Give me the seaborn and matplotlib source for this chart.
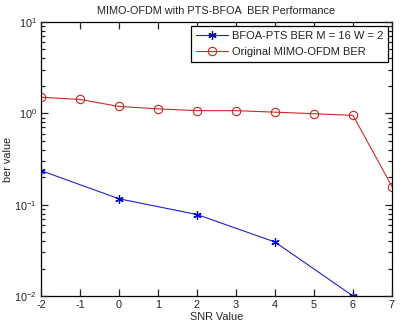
import matplotlib
matplotlib.use("Agg")
import matplotlib.pyplot as plt
import seaborn as sns
import pandas as pd
import numpy as np
from matplotlib.ticker import LogLocator, NullFormatter

snr_blue = [-2, 0, 2, 4, 6]
ber_blue = [0.236, 0.116, 0.078, 0.039, 0.010]
snr_red = [-2, -1, 0, 1, 2, 3, 4, 5, 6, 7]
ber_red = [1.50, 1.42, 1.19, 1.12, 1.07, 1.07, 1.03, 0.99, 0.95, 0.158]
xticks = [-2, -1, 0, 1, 2, 3, 4, 5, 6, 7]

label_blue = "BFOA-PTS BER M = 16 W = 2"
label_red = "Original MIMO-OFDM BER"

sns.set_style("ticks", {"xtick.direction": "in", "ytick.direction": "in",
                        "xtick.top": True, "ytick.right": True})
plt.rcParams['font.family'] = ['Liberation Sans', 'DejaVu Sans']
plt.rcParams['axes.unicode_minus'] = False
plt.rcParams['font.size'] = 7.8
plt.rcParams['text.color'] = '#222222'
plt.rcParams['axes.axisbelow'] = False

fig = plt.figure(figsize=(4.02, 3.32), dpi=100)
ax = fig.add_axes([41/402, 1-296/332, (392-41)/402, (296-22)/332])

df_b = pd.DataFrame({"snr": snr_blue, "ber": ber_blue})
df_r = pd.DataFrame({"snr": snr_red, "ber": ber_red})
sns.lineplot(data=df_b, x="snr", y="ber", ax=ax, color="#2020cc", marker=(6, 2, 0),
             markersize=6, linewidth=0.8, label=label_blue, markeredgecolor="#0000cc",
             markeredgewidth=0.9)
sns.lineplot(data=df_r, x="snr", y="ber", ax=ax, color="#cc2a2a", marker="o",
             markersize=6, linewidth=0.8, label=label_red, markerfacecolor="none",
             markeredgecolor="#cc2222", markeredgewidth=0.8)

ax.set_yscale("log")
ax.set_xlim(-2, 7)
ax.set_ylim(1e-2, 1e1)
ax.set_xticks(xticks)
ax.yaxis.set_minor_locator(LogLocator(base=10, subs=np.arange(2, 10)))
ax.yaxis.set_minor_formatter(NullFormatter())
ax.tick_params(which="both", direction="in", top=True, right=True, bottom=True,
               left=True, color="#222222", labelcolor="#222222", width=0.9)
ax.tick_params(which="major", length=5, labelsize=7.8, pad=3)
ax.tick_params(which="minor", length=3)
for s in ax.spines.values():
    s.set_visible(True)
    s.set_linewidth(0.9)
    s.set_color("black")

ax.set_xlabel("SNR Value", fontsize=7.8, labelpad=1, color="#222222")
ax.set_ylabel("ber value", fontsize=7.8, color="#222222")
ax.yaxis.set_label_coords(-0.08, 0.5)
ax.set_title("MIMO-OFDM with PTS-BFOA  BER Performance", fontsize=7.8, pad=6,
             color="#222222")

leg = ax.legend(loc="upper right", fontsize=8, frameon=True, fancybox=False,
                edgecolor="black", borderpad=0.45, handlelength=2.9, labelspacing=0.55,
                borderaxespad=0.35, handletextpad=0.3)
leg.get_frame().set_linewidth(0.9)
leg.get_frame().set_alpha(1)

fig.savefig("out.png", dpi=100, facecolor="white")
